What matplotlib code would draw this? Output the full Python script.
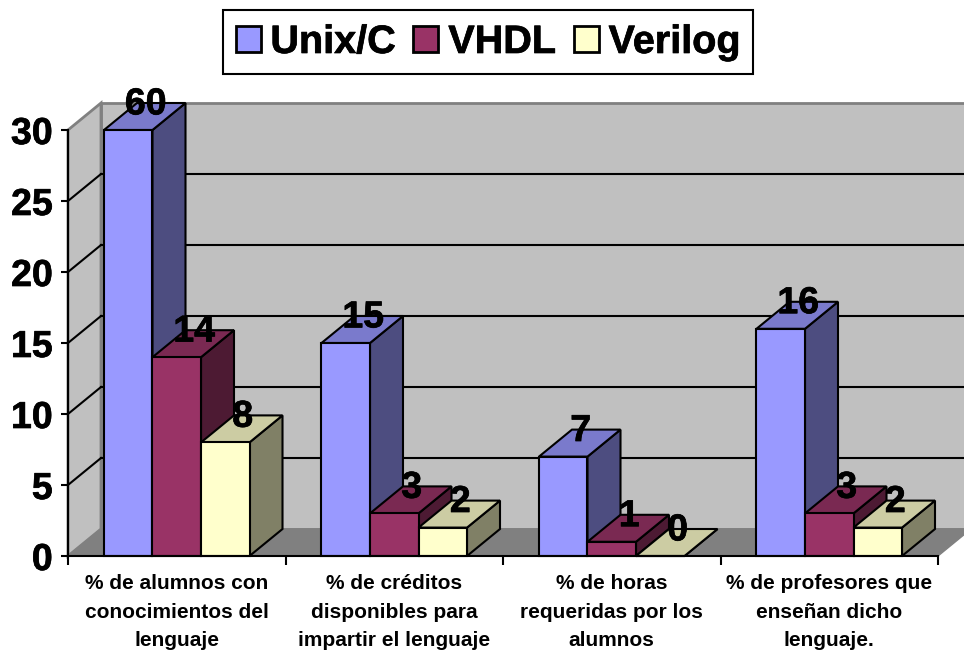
import matplotlib
matplotlib.use("Agg")
import matplotlib.pyplot as plt
from matplotlib.patches import Polygon, Patch
import matplotlib.patheffects as pe

plt.rcParams['font.family'] = ['Liberation Sans', 'DejaVu Sans']

categories = ["% de alumnos con\nconocimientos del\nlenguaje",
              "% de créditos\ndisponibles para\nimpartir el lenguaje",
              "% de horas\nrequeridas por los\nalumnos",
              "% de profesores que\nenseñan dicho\nlenguaje."]
series_names = ["Unix/C", "VHDL", "Verilog"]
unix_c = [60, 15, 7, 16]
vhdl = [14, 3, 1, 3]
verilog = [8, 2, 0, 2]
y_ticks = [0, 5, 10, 15, 20, 25, 30]

face_colors = ["#9999FF", "#993366", "#FFFFCC"]
side_colors = ["#4D4D80", "#4D1A33", "#808066"]
top_colors = ["#7A7ACC", "#7A2952", "#CCCCA3"]

W, H = 964, 651
fig = plt.figure(figsize=(W / 100, H / 100), dpi=100, facecolor="white")
L, R, T, B = 68, 938, 130, 556
ax = fig.add_axes([L / W, 1 - B / H, (R - L) / W, (B - T) / H])
ax.set_xlim(0, 4)
ax.set_ylim(0, 30)
ax.patch.set_visible(False)
for s in ("top", "right"):
    ax.spines[s].set_visible(False)
for s in ("left", "bottom"):
    ax.spines[s].set_linewidth(1.5)
    ax.spines[s].set_zorder(50)

# oblique depth of the 3-D box, expressed in data units
dx = 33 / ((R - L) / 4)
dy = 27 / ((B - T) / 30)
bar_w = 0.223
margin = 0.1655
heavy = [pe.withStroke(linewidth=0.5, foreground="black")]


def poly(pts, fc, ec, z, lw=1.5):
    ax.add_patch(Polygon(pts, closed=True, facecolor=fc, edgecolor=ec, lw=lw,
                         zorder=z, clip_on=False, joinstyle="miter"))


# walls and floor
poly([(dx, dy), (4 + dx, dy), (4 + dx, 30 + dy), (dx, 30 + dy)], "#C0C0C0", "#808080", 1, 2)
poly([(0, 0), (dx, dy), (dx, 30 + dy), (0, 30)], "#C0C0C0", "#808080", 1.1, 2)
poly([(0, 0), (4, 0), (4 + dx, dy), (dx, dy)], "#808080", "#808080", 1.2, 1)
for v in y_ticks[1:-1]:
    ax.plot([dx, 4 + dx], [v + dy, v + dy], color="black", lw=1.5, zorder=2, clip_on=False)
    ax.plot([0, dx], [v, v + dy], color="black", lw=1.5, zorder=2, clip_on=False)

# bars
z = 3
all_series = [unix_c, vhdl, verilog]
for c in range(len(categories)):
    for s, values in enumerate(all_series):
        v = values[c]
        h = min(v, 30)
        x0 = c + margin + s * bar_w
        x1 = x0 + bar_w
        poly([(x1, 0), (x1 + dx, dy), (x1 + dx, h + dy), (x1, h)], side_colors[s], "black", z)
        poly([(x0, h), (x1, h), (x1 + dx, h + dy), (x0 + dx, h + dy)], top_colors[s], "black", z + 0.1)
        poly([(x0, 0), (x1, 0), (x1, h), (x0, h)], face_colors[s], "black", z + 0.2)
        z += 1
        ax.annotate(str(v), ((x0 + x1 + dx) / 2, h + dy / 2), xytext=(0.7, 1.5),
                    textcoords="offset points", ha="center", va="baseline",
                    fontsize=27, fontweight="bold", color="black", zorder=40,
                    annotation_clip=False, path_effects=heavy)

# axes ticks
ax.set_yticks(y_ticks)
ax.tick_params(axis="y", length=5, width=1.5, pad=6, labelsize=27)
for t in ax.get_yticklabels():
    t.set_fontweight("bold")
    t.set_verticalalignment("center_baseline")
    t.set_path_effects(heavy)
ax.set_xticks(range(5))
ax.set_xticklabels([])
ax.tick_params(axis="x", which="major", length=6.5, width=1.5)
ax.set_xticks([c + 0.5 for c in range(4)], minor=True)
ax.set_xticklabels(categories, minor=True, fontsize=15, fontweight="bold", linespacing=1.64)
ax.tick_params(axis="x", which="minor", length=0, pad=13)

handles = [Patch(facecolor=c, edgecolor="black", lw=2) for c in face_colors]
leg = fig.legend(handles, series_names, ncols=3, loc="center",
                 bbox_to_anchor=(488 / W, 1 - 42 / H),
                 prop={"weight": "bold", "size": 28.5}, frameon=True, fancybox=False,
                 edgecolor="black", framealpha=1, handlelength=0.63, handleheight=0.65,
                 handletextpad=0.25, columnspacing=0.45, borderpad=0.32, borderaxespad=0)
leg.get_frame().set_linewidth(1.5)
for t in leg.get_texts():
    t.set_path_effects(heavy)

fig.savefig("out.png", dpi=100, facecolor="white")
